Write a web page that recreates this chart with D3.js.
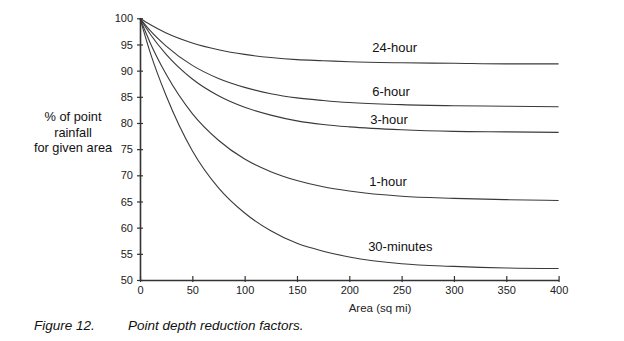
<!DOCTYPE html>
<html><head><meta charset="utf-8">
<script src="https://cdn.jsdelivr.net/npm/d3@7"></script>
<style>body{margin:0;background:#fff}svg{display:block}</style>
</head><body>
<svg id="c" width="624" height="341"></svg>
<script>
const areas = [0, 10, 25, 50, 75, 100, 125, 150, 175, 200, 250, 300, 350, 400];
const h24 = [100, 98.75, 97.2, 95.3, 94.0, 93.1, 92.5, 92.1, 91.9, 91.7, 91.5, 91.4, 91.3, 91.3];
const h6 = [100, 97.6, 94.7, 91.0, 88.5, 86.8, 85.6, 84.8, 84.3, 83.9, 83.5, 83.3, 83.2, 83.1];
const h3 = [100, 96.9, 93.1, 88.4, 85.2, 83.0, 81.5, 80.4, 79.7, 79.25, 78.7, 78.4, 78.3, 78.2];
const h1 = [100, 95.2, 89.3, 81.8, 76.7, 73.1, 70.7, 69.0, 67.8, 67.0, 66.0, 65.6, 65.35, 65.2];
const m30 = [100, 93.3, 85.2, 74.7, 67.6, 62.8, 59.4, 57.0, 55.5, 54.4, 53.1, 52.6, 52.3, 52.2];
const seriesNames = ["24-hour", "6-hour", "3-hour", "1-hour", "30-minutes"];
const seriesValues = [h24, h6, h3, h1, m30];
const xTicks = [0, 50, 100, 150, 200, 250, 300, 350, 400];
const yTicks = [50, 55, 60, 65, 70, 75, 80, 85, 90, 95, 100];
const labelAnchors = [[222, 93.6], [222, 85.1], [220, 79.85], [219, 68.0], [218, 55.6]]; // [area, value] for label placement

const svg = d3.select("#c");
const x = d3.scaleLinear().domain([0, 400]).range([140, 558.6]);
const y = d3.scaleLinear().domain([50, 100]).range([280, 18.3]);
const font = "Liberation Sans, Arial, sans-serif";

const line = d3.line().x((d, i) => x(areas[i])).y(d => y(d)).curve(d3.curveMonotoneX);
seriesValues.forEach(vals => {
  svg.append("path").attr("d", line(vals)).attr("fill", "none")
    .attr("stroke", "#3a3a3a").attr("stroke-width", 1.1);
});

const yAx = svg.append("g").attr("transform", `translate(${x(0)},0)`)
  .call(d3.axisLeft(y).tickValues(yTicks).tickSizeInner(3).tickSizeOuter(0).tickPadding(4));
yAx.selectAll(".tick line").attr("x1", 3);
const xAx = svg.append("g").attr("transform", `translate(0,${y(50)})`)
  .call(d3.axisBottom(x).tickValues(xTicks).tickSizeInner(3).tickSizeOuter(0).tickPadding(3));
xAx.selectAll(".tick line").attr("y1", -4).attr("y2", 2);
[yAx, xAx].forEach(g => {
  g.select(".domain").attr("stroke", "#333").attr("stroke-width", 1.6);
  g.selectAll(".tick line").attr("stroke", "#333").attr("stroke-width", 1.2);
  g.selectAll(".tick text").attr("font-family", font).attr("font-size", 11).attr("fill", "#222");
});

seriesNames.forEach((n, i) => {
  svg.append("text").attr("x", x(labelAnchors[i][0])).attr("y", y(labelAnchors[i][1]))
    .attr("font-family", font).attr("font-size", 13).attr("fill", "#111").text(n);
});

svg.append("text").attr("x", 380).attr("y", 312).attr("text-anchor", "middle")
  .attr("font-family", font).attr("font-size", 11.5).attr("fill", "#222").text("Area (sq mi)");

const yt = svg.append("text").attr("font-family", font).attr("font-size", 12.8).attr("fill", "#111").attr("text-anchor", "middle");
[["% of point", 121], ["rainfall", 136.5], ["for given area", 151.5]].forEach(([t, yy]) => {
  yt.append("tspan").attr("x", 73).attr("y", yy).text(t);
});

svg.append("text").attr("x", 34).attr("y", 330).attr("font-family", font).attr("font-size", 13.5)
  .attr("font-style", "italic").attr("fill", "#111").text("Figure 12.");
svg.append("text").attr("x", 128).attr("y", 330).attr("font-family", font).attr("font-size", 13.5)
  .attr("font-style", "italic").attr("fill", "#111").text("Point depth reduction factors.");
</script>
</body></html>
